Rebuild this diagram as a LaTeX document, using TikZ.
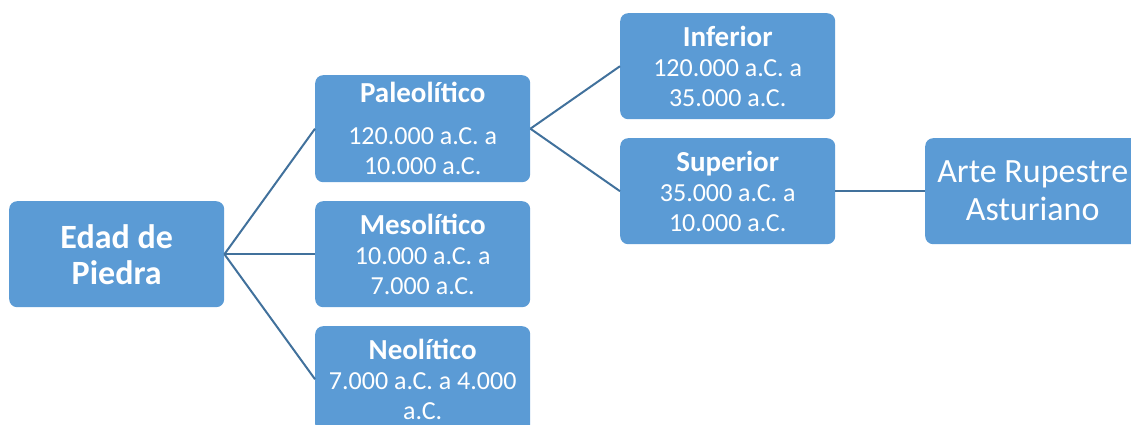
\documentclass[tikz,border=0pt]{standalone}
\usepackage{fontspec}
\setmainfont{Carlito}
\definecolor{boxblue}{HTML}{5B9BD5}
\definecolor{lineblue}{HTML}{41719C}
\tikzset{
  card/.style={fill=boxblue, rounded corners=8pt, minimum width=215pt, minimum height=106pt,
    inner sep=0pt, text=white, align=center, font=\fontsize{26}{30}\selectfont, anchor=north west},
  link/.style={draw=lineblue, line width=2pt}
}
\newcommand{\ttl}[1]{{\fontsize{29}{30}\selectfont\bfseries #1}}
\begin{document}
\begin{tikzpicture}[x=1pt,y=-1pt]
\useasboundingbox (0,0) rectangle (1131,425);
\clip (0,0) rectangle (1131,425);
\node[card, font=\fontsize{34}{36}\selectfont\bfseries] (edad) at (9,201) {Edad de\\Piedra};
\node[card, minimum height=107pt] (paleo) at (315,75) {\ttl{Paleolítico}\\[12pt]120.000 a.C. a\\10.000 a.C.};
\node[card] (meso) at (315,201) {\ttl{Mesolítico}\\10.000 a.C. a\\7.000 a.C.};
\node[card] (neo) at (315,326) {\ttl{Neolítico}\\7.000 a.C. a 4.000\\a.C.};
\node[card] (inf) at (620,13) {\ttl{Inferior}\\120.000 a.C. a\\35.000 a.C.};
\node[card] (sup) at (620,138) {\ttl{Superior}\\35.000 a.C. a\\10.000 a.C.};
\node[card, font=\fontsize{34}{38}\selectfont] (arte) at (925,138) {Arte Rupestre\\Asturiano};
\draw[link] (edad.east) -- (paleo.west);
\draw[link] (edad.east) -- (meso.west);
\draw[link] (edad.east) -- (neo.west);
\draw[link] (paleo.east) -- (inf.west);
\draw[link] (paleo.east) -- (sup.west);
\draw[link] (sup.east) -- (arte.west);
\end{tikzpicture}
\end{document}
